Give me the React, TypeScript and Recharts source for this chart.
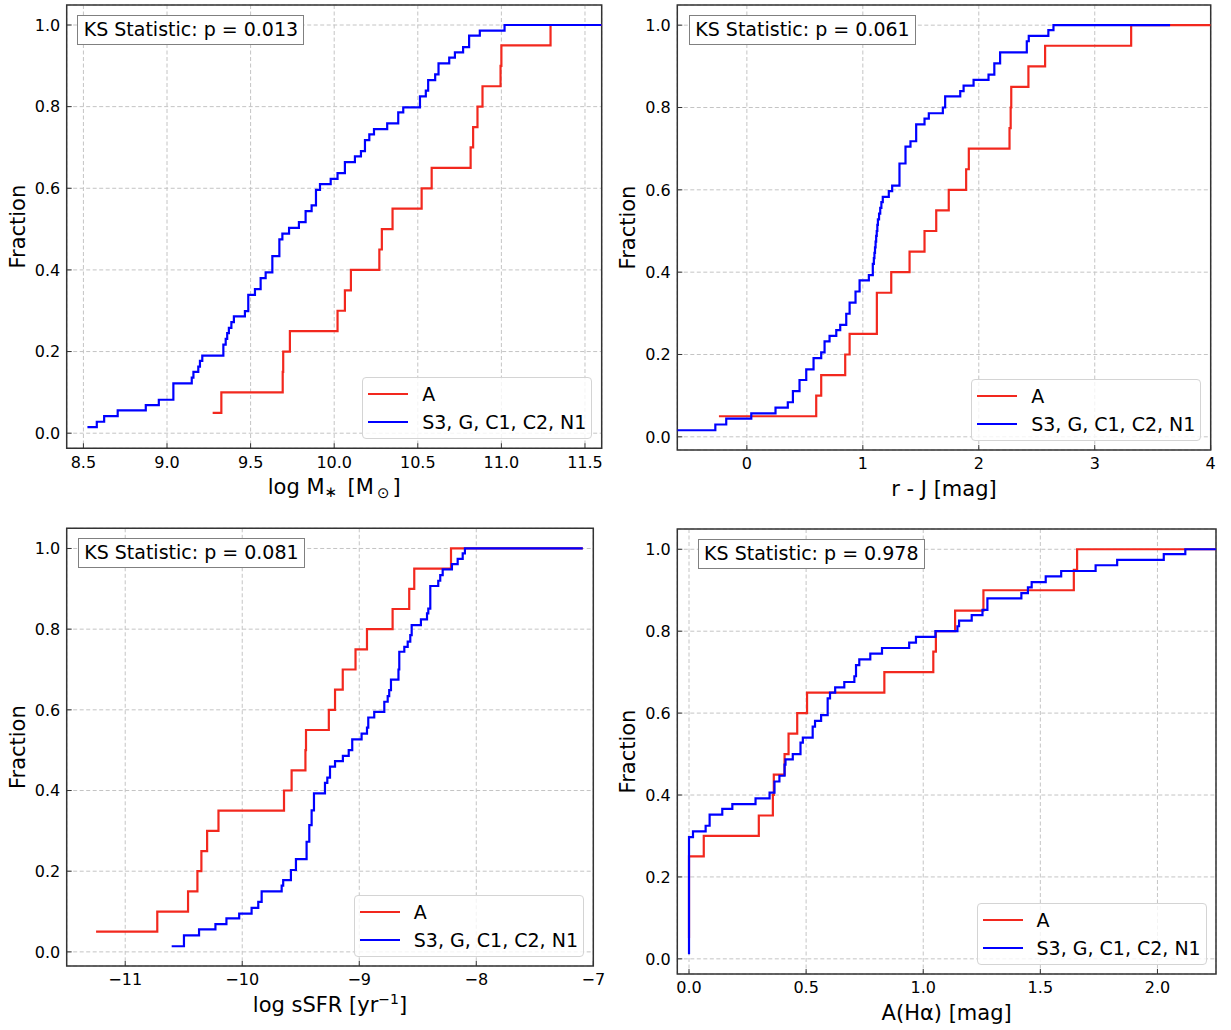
import React from 'react';
import { LineChart, Line, XAxis, YAxis, CartesianGrid, Legend, ReferenceArea } from 'recharts';

const FONT = '"DejaVu Sans", "Liberation Sans", sans-serif';
const RED = '#f2281e';
const BLUE = '#0000ff';

// ---- data: [x, cumulative fraction] step points (post) ----
const massA = [[9.273,0.05],[9.325,0.10],[9.692,0.15],[9.695,0.20],[9.735,0.25],[10.02,0.30],[10.064,0.35],[10.10,0.40],[10.27,0.45],[10.285,0.50],[10.349,0.55],[10.523,0.60],[10.583,0.65],[10.816,0.70],[10.831,0.75],[10.857,0.80],[10.887,0.85],[10.995,0.90],[11.0,0.95],[11.294,1.0],[11.6,1.0]];
const massOther = [[8.524,0.015],[8.58,0.028],[8.624,0.042],[8.705,0.056],[8.873,0.069],[8.951,0.082],[9.038,0.122],[9.148,0.136],[9.158,0.150],[9.187,0.163],[9.197,0.177],[9.211,0.190],[9.337,0.217],[9.351,0.231],[9.36,0.245],[9.37,0.258],[9.385,0.272],[9.40,0.286],[9.466,0.299],[9.486,0.339],[9.526,0.353],[9.560,0.380],[9.590,0.394],[9.630,0.434],[9.672,0.475],[9.69,0.489],[9.73,0.503],[9.789,0.517],[9.829,0.544],[9.865,0.558],[9.891,0.596],[9.915,0.610],[9.979,0.623],[10.02,0.637],[10.064,0.664],[10.124,0.678],[10.16,0.691],[10.184,0.718],[10.21,0.732],[10.238,0.745],[10.317,0.759],[10.383,0.786],[10.413,0.798],[10.513,0.825],[10.548,0.839],[10.562,0.865],[10.604,0.879],[10.624,0.906],[10.688,0.920],[10.722,0.933],[10.771,0.946],[10.807,0.974],[10.871,0.986],[11.019,1.0],[11.6,1.0]];

const colourA = [[-0.241,0.05],[0.598,0.10],[0.641,0.15],[0.848,0.20],[0.886,0.25],[1.121,0.35],[1.245,0.40],[1.403,0.45],[1.532,0.50],[1.633,0.55],[1.741,0.60],[1.891,0.65],[1.914,0.70],[2.265,0.75],[2.275,0.80],[2.28,0.85],[2.428,0.90],[2.572,0.95],[3.314,1.0],[4.0,1.0]];
const colourOther = [[-0.6,0.016],[-0.272,0.030],[-0.178,0.044],[0.038,0.057],[0.247,0.071],[0.353,0.084],[0.397,0.111],[0.454,0.138],[0.512,0.164],[0.575,0.191],[0.641,0.205],[0.670,0.232],[0.713,0.245],[0.771,0.259],[0.805,0.272],[0.857,0.299],[0.886,0.326],[0.937,0.353],[0.972,0.380],[1.052,0.393],[1.086,0.420],[1.095,0.434],[1.10,0.447],[1.105,0.46],[1.11,0.474],[1.115,0.488],[1.12,0.50],[1.125,0.515],[1.13,0.528],[1.14,0.542],[1.15,0.556],[1.16,0.57],[1.172,0.583],[1.224,0.597],[1.253,0.61],[1.316,0.664],[1.368,0.705],[1.411,0.718],[1.46,0.759],[1.532,0.773],[1.569,0.786],[1.69,0.80],[1.71,0.827],[1.84,0.84],[1.869,0.853],[1.955,0.867],[2.084,0.88],[2.134,0.907],[2.184,0.934],[2.414,0.961],[2.431,0.974],[2.6,0.988],[2.644,1.0],[3.65,1.0]];

const ssfrA = [[-11.249,0.05],[-10.726,0.10],[-10.463,0.15],[-10.383,0.20],[-10.349,0.25],[-10.30,0.30],[-10.203,0.35],[-9.643,0.40],[-9.578,0.45],[-9.46,0.50],[-9.455,0.55],[-9.26,0.60],[-9.207,0.65],[-9.141,0.70],[-9.032,0.75],[-8.934,0.80],[-8.715,0.85],[-8.573,0.90],[-8.53,0.95],[-8.216,1.0],[-7.09,1.0]];
const ssfrOther = [[-10.603,0.014],[-10.498,0.041],[-10.369,0.056],[-10.229,0.069],[-10.135,0.083],[-10.026,0.095],[-9.92,0.109],[-9.863,0.124],[-9.834,0.150],[-9.663,0.164],[-9.65,0.178],[-9.584,0.203],[-9.541,0.23],[-9.45,0.273],[-9.427,0.314],[-9.407,0.351],[-9.387,0.393],[-9.293,0.419],[-9.273,0.432],[-9.25,0.459],[-9.207,0.473],[-9.14,0.486],[-9.09,0.50],[-9.06,0.527],[-8.98,0.541],[-8.934,0.556],[-8.923,0.581],[-8.872,0.595],[-8.786,0.62],[-8.757,0.634],[-8.744,0.649],[-8.729,0.675],[-8.665,0.70],[-8.658,0.744],[-8.615,0.756],[-8.586,0.769],[-8.564,0.785],[-8.552,0.81],[-8.473,0.824],[-8.421,0.839],[-8.41,0.851],[-8.393,0.907],[-8.325,0.92],[-8.308,0.934],[-8.287,0.948],[-8.208,0.961],[-8.159,0.974],[-8.116,0.988],[-8.097,1.0],[-7.09,1.0]];

const dustA = [[0,0.05],[0,0.25],[0.063,0.30],[0.298,0.35],[0.358,0.40],[0.362,0.45],[0.408,0.50],[0.425,0.55],[0.462,0.60],[0.504,0.65],[0.834,0.70],[1.043,0.75],[1.054,0.80],[1.136,0.85],[1.257,0.90],[1.643,0.95],[1.657,1.0],[2.25,1.0]];
const dustOther = [[0,0.011],[0,0.297],[0.017,0.311],[0.071,0.325],[0.088,0.352],[0.142,0.366],[0.185,0.378],[0.284,0.392],[0.344,0.406],[0.365,0.433],[0.386,0.447],[0.408,0.474],[0.412,0.487],[0.443,0.50],[0.476,0.528],[0.486,0.54],[0.528,0.567],[0.538,0.581],[0.564,0.595],[0.592,0.636],[0.602,0.65],[0.624,0.663],[0.663,0.676],[0.706,0.69],[0.713,0.717],[0.727,0.731],[0.774,0.745],[0.824,0.759],[0.94,0.772],[0.969,0.786],[1.052,0.80],[1.146,0.812],[1.153,0.826],[1.207,0.839],[1.253,0.852],[1.274,0.88],[1.419,0.893],[1.447,0.907],[1.463,0.92],[1.523,0.934],[1.589,0.947],[1.736,0.961],[1.828,0.974],[2.027,0.988],[2.119,1.0],[2.25,1.0]];

// ---- ticks / labels ----
const fractionTicks = [0, 0.2, 0.4, 0.6, 0.8, 1.0];
const massTicks = [8.5, 9.0, 9.5, 10.0, 10.5, 11.0, 11.5];
const colourTicks = [0, 1, 2, 3, 4];
const ssfrTicks = [-11, -10, -9, -8, -7];
const dustTicks = [0, 0.5, 1.0, 1.5, 2.0];
const seriesNames = ['A', 'S3, G, C1, C2, N1'];
const ksValues = ['0.013', '0.061', '0.081', '0.978'];

const toPts = (a: number[][]) => a.map(([x, y]) => ({ x, y }));
const fmt1 = (v: number) => v.toFixed(1);
const fmtInt = (v: number) => (v < 0 ? '\u2212' + Math.abs(v) : String(v));

type PanelProps = {
  left: number; top: number; width: number; height: number;
  margin: { top: number; right: number; left: number; bottom: number };
  yAxisWidth: number; xAxisHeight: number;
  xDomain: [number, number]; yDomain: [number, number];
  xTicks: number[]; xFmt: (v: number) => string;
  red: number[][]; blue: number[][];
  ks: string; ksDx: number;
  xLabel: React.ReactNode;
};

const LegendBox = ({ payload }: any) => (
  <div style={{ width: 230, height: 62, boxSizing: 'border-box', border: '1px solid #d4d4d4', borderRadius: 4, background: 'rgba(255,255,255,0.8)', fontFamily: FONT, fontSize: 19, position: 'relative', color: '#000' }}>
    {(payload || []).map((e: any, i: number) => (
      <div key={i} style={{ position: 'absolute', left: 5, top: 4 + 28 * i, height: 24, display: 'flex', alignItems: 'center', whiteSpace: 'nowrap' }}>
        <span style={{ display: 'inline-block', width: 40, height: 2.2, background: e.color }} />
        <span style={{ marginLeft: 14, lineHeight: '24px' }}>{e.value}</span>
      </div>
    ))}
  </div>
);

function Panel(p: PanelProps) {
  const plotLeft = p.margin.left + p.yAxisWidth;
  const plotTop = p.margin.top;
  const plotRight = p.width - p.margin.right;
  const plotBottom = p.height - p.margin.bottom - p.xAxisHeight;
  const tickStyle = { fill: '#000', fontSize: 16, fontFamily: FONT };
  return (
    <div style={{ position: 'absolute', left: p.left, top: p.top, width: p.width, height: p.height }}>
      <LineChart width={p.width} height={p.height} margin={p.margin}>
        <CartesianGrid stroke="#c4c4c4" strokeDasharray="4 2.5" strokeWidth={1} />
        <XAxis
          type="number" dataKey="x" domain={p.xDomain} ticks={p.xTicks} allowDataOverflow interval={0}
          tickFormatter={p.xFmt} tick={tickStyle} tickLine={{ stroke: '#333' }} tickSize={-5} tickMargin={12.9}
          axisLine={false} height={p.xAxisHeight}
          label={{
            content: (lp: any) => {
              const vb = lp.viewBox;
              return (
                <text x={vb.x + vb.width / 2} y={vb.y + 46} textAnchor="middle" fontSize={21} fontFamily={FONT} fill="#000">{p.xLabel}</text>
              );
            },
          }}
        />
        <YAxis
          type="number" domain={p.yDomain} ticks={fractionTicks} allowDataOverflow interval={0}
          tickFormatter={fmt1} tick={tickStyle} tickLine={{ stroke: '#333' }} tickSize={-5} tickMargin={11.5}
          axisLine={false} width={p.yAxisWidth}
          label={{
            content: (lp: any) => {
              const vb = lp.viewBox;
              const cx = vb.x + vb.width - 49;
              const cy = vb.y + vb.height / 2;
              return (
                <text x={cx} y={cy} transform={`rotate(-90, ${cx}, ${cy})`} textAnchor="middle" dominantBaseline="central" fontSize={21} fontFamily={FONT} fill="#000">Fraction</text>
              );
            },
          }}
        />
        <ReferenceArea x1={p.xDomain[0]} x2={p.xDomain[1]} y1={p.yDomain[0]} y2={p.yDomain[1]} fill="none" stroke="#333" strokeWidth={1.5} strokeOpacity={1} fillOpacity={0} ifOverflow="visible" />
        <Line data={toPts(p.red)} dataKey="y" name={seriesNames[0]} type="stepAfter" stroke={RED} strokeWidth={2.2} dot={false} activeDot={false} isAnimationActive={false} />
        <Line data={toPts(p.blue)} dataKey="y" name={seriesNames[1]} type="stepAfter" stroke={BLUE} strokeWidth={2.2} dot={false} activeDot={false} isAnimationActive={false} />
        <Legend
          layout="vertical" align="center" verticalAlign="middle" content={<LegendBox />}
          wrapperStyle={{ left: plotRight - 9.5 - 230, top: plotBottom - 9 - 62, width: 230, height: 62 }}
        />
      </LineChart>
      <div style={{ position: 'absolute', left: plotLeft + p.ksDx, top: plotTop + 10, width: 227, height: 30, boxSizing: 'border-box', border: '1.5px solid #808080', background: '#fff', fontFamily: FONT, fontSize: 19, lineHeight: '27px', paddingLeft: 5.5, color: '#000', whiteSpace: 'nowrap' }}>
        KS Statistic: p = {p.ks}
      </div>
    </div>
  );
}

export default function App() {
  return (
    <div style={{ position: 'absolute', left: 0, top: 0, width: 1231, height: 1030, background: '#fff', overflow: 'hidden' }}>
      <Panel left={0} top={0} width={615} height={515} margin={{ top: 5, right: 13.3, left: 0, bottom: 0 }}
        yAxisWidth={66.7} xAxisHeight={66.7} xDomain={[8.4, 11.6]} yDomain={[-0.037, 1.049]}
        xTicks={massTicks} xFmt={fmt1} red={massA} blue={massOther} ks={ksValues[0]} ksDx={10.5}
        xLabel={<>log M<tspan fontSize={15} dy={3}>∗</tspan><tspan dy={-3}>{'\u2002'}[M</tspan><tspan fontSize={15} dx={3} dy={4}>⊙</tspan><tspan dx={3} dy={-4}>]</tspan></>} />
      <Panel left={615} top={0} width={616} height={515} margin={{ top: 5, right: 20.3, left: 0, bottom: 0 }}
        yAxisWidth={62.3} xAxisHeight={65} xDomain={[-0.6, 4.0]} yDomain={[-0.032, 1.049]}
        xTicks={colourTicks} xFmt={fmtInt} red={colourA} blue={colourOther} ks={ksValues[1]} ksDx={11.5}
        xLabel={<>r - J [mag]</>} />
      <Panel left={0} top={515} width={615} height={515} margin={{ top: 13.3, right: 21.7, left: 0, bottom: 0 }}
        yAxisWidth={66.7} xAxisHeight={64} xDomain={[-11.5, -7.0]} yDomain={[-0.035, 1.05]}
        xTicks={ssfrTicks} xFmt={fmtInt} red={ssfrA} blue={ssfrOther} ks={ksValues[2]} ksDx={11}
        xLabel={<>log sSFR [yr<tspan fontSize={14} dy={-8}>−1</tspan><tspan dy={8}>]</tspan></>} />
      <Panel left={615} top={515} width={616} height={515} margin={{ top: 14, right: 15, left: 0, bottom: 0 }}
        yAxisWidth={62.3} xAxisHeight={56} xDomain={[-0.05, 2.25]} yDomain={[-0.037, 1.0495]}
        xTicks={dustTicks} xFmt={fmt1} red={dustA} blue={dustOther} ks={ksValues[3]} ksDx={20.3}
        xLabel={<>A(Hα) [mag]</>} />
    </div>
  );
}
